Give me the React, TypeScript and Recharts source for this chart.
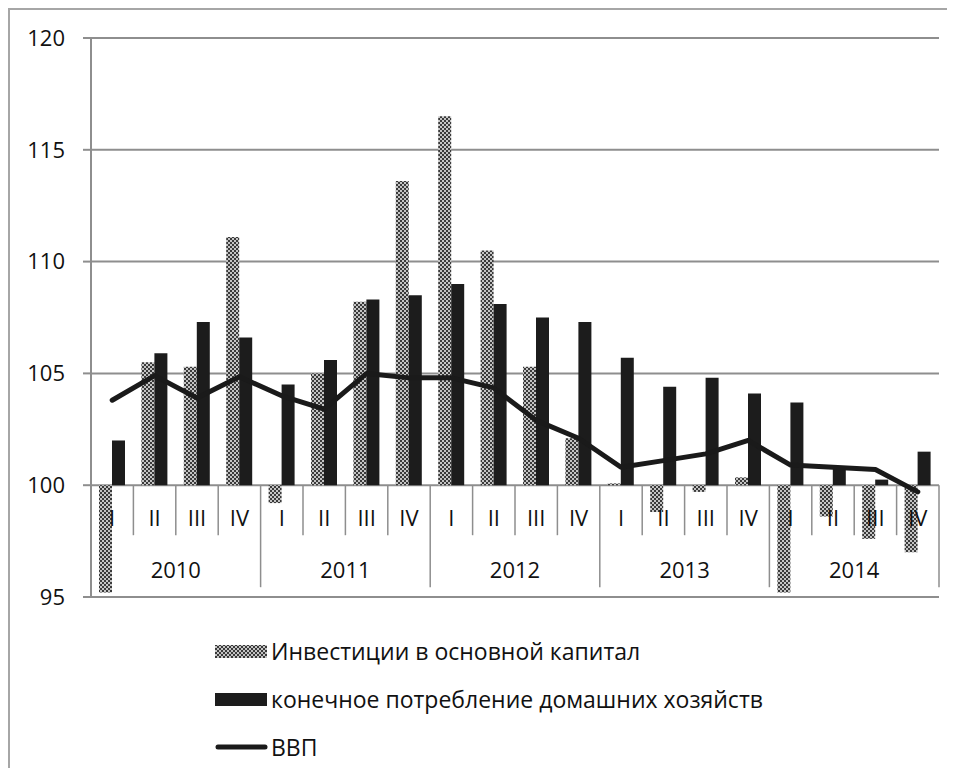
import React from 'react';
import { ComposedChart, Bar, Line, XAxis, YAxis, CartesianGrid, Legend } from 'recharts';

const QUARTERS = ['I', 'II', 'III', 'IV', 'I', 'II', 'III', 'IV', 'I', 'II', 'III', 'IV', 'I', 'II', 'III', 'IV', 'I', 'II', 'III', 'IV'];
const YEARS = ['2010', '2010', '2010', '2010', '2011', '2011', '2011', '2011', '2012', '2012', '2012', '2012', '2013', '2013', '2013', '2013', '2014', '2014', '2014', '2014'];

// Инвестиции в основной капитал
const INVEST = [95.2, 105.5, 105.3, 111.1, 99.2, 105.0, 108.2, 113.6, 116.5, 110.5, 105.3, 102.1, 100.08, 98.8, 99.7, 100.35, 95.2, 98.6, 97.6, 97.0];
// конечное потребление домашних хозяйств
const CONSUMPTION = [102.0, 105.9, 107.3, 106.6, 104.5, 105.6, 108.3, 108.5, 109.0, 108.1, 107.5, 107.3, 105.7, 104.4, 104.8, 104.1, 103.7, 100.8, 100.25, 101.5];
// ВВП
const GDP = [103.8, 104.9, 103.9, 104.85, 104.0, 103.4, 105.0, 104.8, 104.8, 104.35, 102.9, 102.1, 100.8, 101.1, 101.4, 102.0, 100.9, 100.8, 100.7, 99.7];

const Y_TICKS = [95, 100, 105, 110, 115, 120];
const BASE = 100;
const NAMES = ['Инвестиции в основной капитал', 'конечное потребление домашних хозяйств', 'ВВП'];

// bars start at 100, so each bar is a [100, value] range
const data = QUARTERS.map((q, i) => ({
  q,
  year: YEARS[i],
  invest: [BASE, INVEST[i]],
  cons: [BASE, CONSUMPTION[i]],
  gdp: GDP[i],
}));

// layout
const W = 937;
const H = 758;
const Y_W = 81;
const AX_H = 1;
const M = { top: 28, right: 8, bottom: 169, left: 0 };
const PLOT_W = W - Y_W - M.left - M.right;
const PLOT_H = H - M.top - M.bottom - 2 * AX_H;
const DROP = (PLOT_H * (BASE - Y_TICKS[0])) / (Y_TICKS[Y_TICKS.length - 1] - Y_TICKS[0]);
const Q_BAND = PLOT_W / QUARTERS.length;
const Y_BAND = Q_BAND * 4;
const GREY = '#8e8e8e';
const FONT = 22;

// quarter labels sit just under the 100 line
function QuarterTick(props: any) {
  const { x, y, payload } = props;
  const i = payload.index ?? props.index;
  const top = y - DROP;
  return (
    <g>
      {i % 4 !== 0 && (
        <line x1={x - Q_BAND / 2} x2={x - Q_BAND / 2} y1={top} y2={top + 50} stroke={GREY} strokeWidth={1.5} />
      )}
      <text x={x} y={top + 33} dy="0.36em" textAnchor="middle" fontSize={FONT} fill="#111">
        {payload.value}
      </text>
    </g>
  );
}

function YearTick(props: any) {
  const { x, y, payload } = props;
  const i = payload.index ?? props.index;
  const top = y - AX_H - DROP;
  return (
    <g>
      <line x1={x - Y_BAND / 2} x2={x - Y_BAND / 2} y1={top} y2={top + 102} stroke={GREY} strokeWidth={1.5} />
      {i === 4 && (
        <line x1={x + Y_BAND / 2} x2={x + Y_BAND / 2} y1={top} y2={top + 102} stroke={GREY} strokeWidth={1.5} />
      )}
      <text x={x} y={top + 85} dy="0.36em" textAnchor="middle" fontSize={FONT} fill="#111">
        {payload.value}
      </text>
    </g>
  );
}

function LegendBox(props: any) {
  const items = [...(props.payload || [])].sort(
    (a: any, b: any) => NAMES.indexOf(a.value) - NAMES.indexOf(b.value)
  );
  return (
    <div>
      {items.map((entry: any) => (
        <div key={entry.value} style={{ display: 'flex', alignItems: 'center', height: 48 }}>
          <svg width={53} height={14} style={{ marginRight: 3 }}>
            {entry.type === 'line' ? (
              <line x1={3} x2={50} y1={7} y2={7} stroke={entry.color} strokeWidth={5} strokeLinecap="round" />
            ) : (
              <rect x={0} y={1} width={52} height={13} fill={entry.color} />
            )}
          </svg>
          <span style={{ fontSize: 23, color: '#111', lineHeight: 1 }}>{entry.value}</span>
        </div>
      ))}
    </div>
  );
}

export default function App() {
  return (
    <div
      style={{
        width: W,
        height: H,
        borderLeft: '2px solid #a6a6a6',
        borderTop: '2px solid #a6a6a6',
        fontFamily: '"Open Sans", sans-serif',
      }}
    >
      <ComposedChart width={W} height={H} data={data} margin={M} barGap={0}>
        <defs>
          <pattern id="investPattern" patternUnits="userSpaceOnUse" width={4} height={4}>
            <rect x={0} y={0} width={4} height={4} fill="#c4c4c4" />
            <rect x={0} y={0} width={2} height={2} fill="#3a3a3a" />
            <rect x={2} y={2} width={2} height={2} fill="#3a3a3a" />
          </pattern>
        </defs>
        <CartesianGrid vertical={false} stroke={GREY} strokeWidth={2} />
        <YAxis
          width={Y_W}
          domain={[95, 120]}
          ticks={Y_TICKS}
          interval={0}
          axisLine={{ stroke: GREY, strokeWidth: 2 }}
          tickLine={{ stroke: GREY, strokeWidth: 2 }}
          tickSize={8}
          tickMargin={18}
          tick={{ fill: '#111', fontSize: FONT }}
        />
        <XAxis
          dataKey="q"
          interval={0}
          height={AX_H}
          tickSize={0}
          tickMargin={0}
          axisLine={false}
          tickLine={false}
          tick={<QuarterTick />}
        />
        <XAxis
          xAxisId="year"
          dataKey="year"
          allowDuplicatedCategory={false}
          interval={0}
          height={AX_H}
          tickSize={0}
          tickMargin={0}
          axisLine={false}
          tickLine={false}
          tick={<YearTick />}
        />
        <Bar dataKey="invest" name={NAMES[0]} fill="url(#investPattern)" barSize={13} isAnimationActive={false} />
        <Bar dataKey="cons" name={NAMES[1]} fill="#1c1c1c" barSize={13} isAnimationActive={false} />
        <Line
          type="linear"
          dataKey="gdp"
          name={NAMES[2]}
          stroke="#1a1a1a"
          strokeWidth={5}
          strokeLinejoin="round"
          strokeLinecap="round"
          dot={false}
          activeDot={false}
          isAnimationActive={false}
        />
        <Legend
          layout="vertical"
          align="center"
          verticalAlign="middle"
          wrapperStyle={{ left: 205, top: 617, width: 'auto' }}
          content={<LegendBox />}
        />
      </ComposedChart>
    </div>
  );
}
